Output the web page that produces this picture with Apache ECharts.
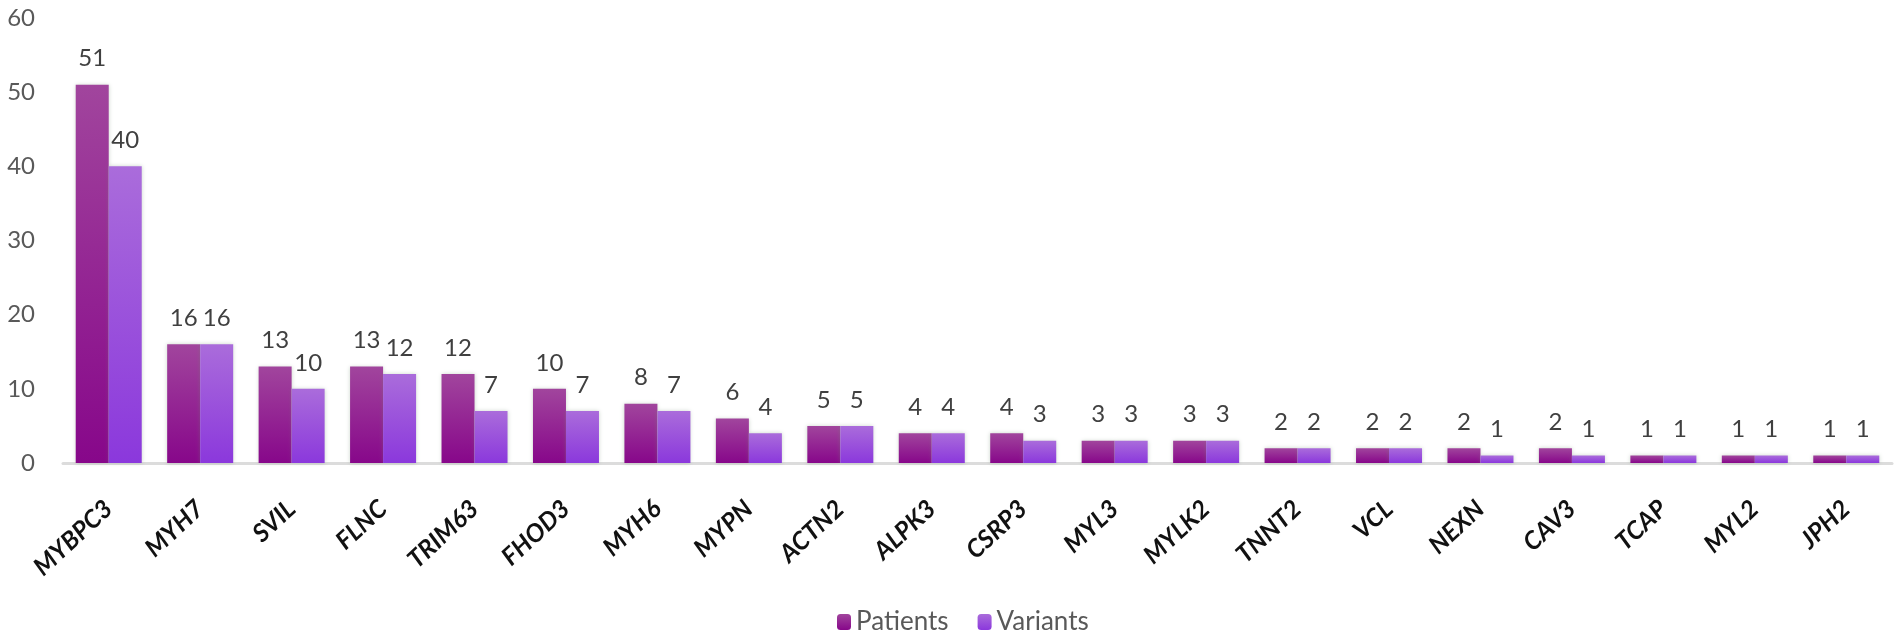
<!DOCTYPE html>
<html>
<head>
<meta charset="utf-8">
<script src="https://cdn.jsdelivr.net/npm/echarts@6/dist/echarts.min.js"></script>
<style>
    html, body { margin: 0; padding: 0; background: #fff; }
    #chart { width: 1901px; height: 638px; }
</style>
</head>
<body>
<div id="chart"></div>
<script>
// 基因名称
var genes = ["MYBPC3", "MYH7", "SVIL", "FLNC", "TRIM63", "FHOD3", "MYH6", "MYPN", "ACTN2", "ALPK3",
             "CSRP3", "MYL3", "MYLK2", "TNNT2", "VCL", "NEXN", "CAV3", "TCAP", "MYL2", "JPH2"];
// 患者数
var patients = [51, 16, 13, 13, 12, 10, 8, 6, 5, 4, 4, 3, 3, 2, 2, 2, 2, 1, 1, 1];
// 变异数
var variants = [40, 16, 10, 12, 7, 7, 7, 4, 5, 4, 3, 3, 3, 2, 2, 1, 1, 1, 1, 1];
// y轴刻度
var yTicks = [0, 10, 20, 30, 40, 50, 60];

window.onload = function () {
    var myChart = echarts.init(document.getElementById('chart'));

    // 柱子的渐变色
    function grad(top, bottom) {
        return new echarts.graphic.LinearGradient(0, 0, 0, 1, [
            { offset: 0, color: top },
            { offset: 1, color: bottom }
        ]);
    }

    var labelStyle = {
        show: true,
        position: 'top',
        distance: 14,
        color: '#404040',
        fontFamily: 'Lato',
        fontSize: 24
    };

    var option = {
        animation: false,
        backgroundColor: '#fff',
        grid: {
            left: 63,
            right: 9,
            top: 18,
            bottom: 175,
            containLabel: false
        },
        legend: {
            left: 832,
            top: 604,
            itemWidth: 14,
            itemHeight: 16,
            itemGap: 29,
            textStyle: {
                color: '#595959',
                fontFamily: 'Lato',
                fontSize: 26
            },
            data: ['Patients', 'Variants']
        },
        xAxis: {
            type: 'category',
            data: genes,
            axisTick: { show: false },
            axisLine: {
                show: true,
                lineStyle: { color: '#dcdcdc', width: 3 }
            },
            axisLabel: {
                rotate: 43,
                margin: 42,
                interval: 0,
                color: '#111',
                fontFamily: 'Lato',
                fontWeight: 'bold',
                fontStyle: 'italic',
                fontSize: 25
            }
        },
        yAxis: {
            type: 'value',
            min: yTicks[0],
            max: yTicks[yTicks.length - 1],
            interval: 10,
            axisLine: { show: false },
            axisTick: { show: false },
            splitLine: { show: false },
            axisLabel: {
                margin: 28,
                color: '#595959',
                fontFamily: 'Lato',
                fontSize: 24
            }
        },
        series: [{
            name: 'Patients',
            type: 'bar',
            data: patients,
            barWidth: 33,
            barGap: '0%',
            itemStyle: {
                color: grad('#a1459d', '#87078a'),
                shadowColor: 'rgba(110,140,110,0.35)',
                shadowBlur: 4
            },
            label: labelStyle
        }, {
            name: 'Variants',
            type: 'bar',
            data: variants,
            barWidth: 33,
            barGap: '0%',
            itemStyle: {
                color: grad('#aa6cdb', '#8b38dc'),
                shadowColor: 'rgba(110,140,110,0.35)',
                shadowBlur: 4
            },
            label: labelStyle
        }]
    };

    myChart.setOption(option);
};
</script>
</body>
</html>
